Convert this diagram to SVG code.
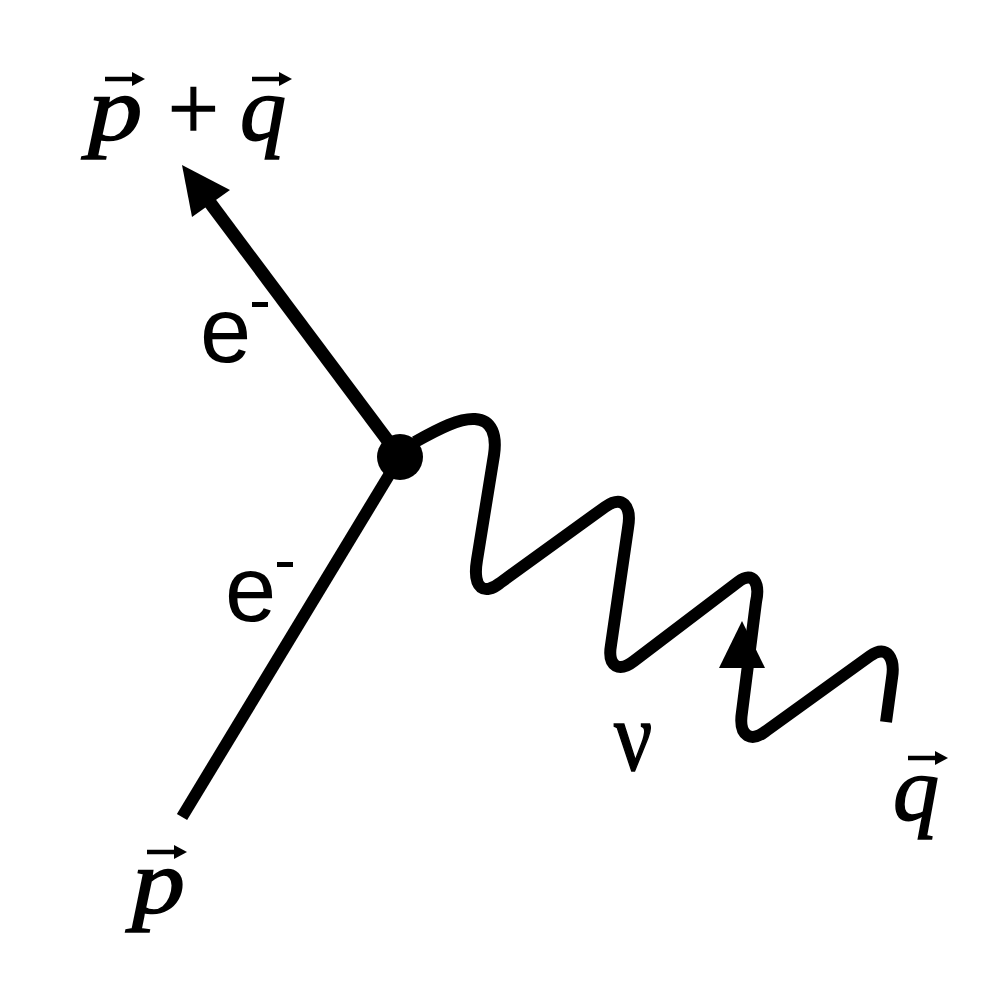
<svg xmlns="http://www.w3.org/2000/svg" width="1000" height="1000" viewBox="0 0 1000 1000">
<style>
.ln{fill:none;stroke:#000;stroke-linecap:butt;stroke-linejoin:round}
.math{font-family:"Liberation Serif","Times New Roman",serif;font-style:italic;fill:#000;stroke:#000;stroke-width:1.6}
.serif{font-family:"Liberation Serif","Times New Roman",serif;fill:#000;stroke:#000}
.sans{font-family:"Liberation Sans",Arial,sans-serif;fill:#000}
.vec{fill:none;stroke:#000;stroke-width:4.5}
</style>
<defs>
<g id="vecarrow">
<path d="M0 0 H30" class="vec"/>
<polygon points="40,0 27,-7 27,7" fill="#000"/>
</g>
</defs>
<rect width="1000" height="1000" fill="#fff"/>
<g id="connectors">
<line id="e-out" class="ln" x1="400" y1="457" x2="208" y2="200" stroke-width="13"/>
<polygon id="e-out-head" points="182,165 230,190 192,217" fill="#000"/>
<line id="e-in" class="ln" x1="400" y1="457" x2="182" y2="817" stroke-width="12"/>
<path id="nu-wave" class="ln" stroke-width="12" d="M415 442 C440 428,460 418,475 419 C492 420,497 435,494 455 L477 560 C472 590,485 595,500 583 L605 507 C622 495,632 505,628 528 L611 645 C607 668,620 672,634 661 L738 582 C754 570,760 584,756 602 L742 712 C738 738,752 742,766 731 L870 656 C888 643,895 660,892 678 L886 722"/>
<polygon id="nu-head" points="742,621 719,668 765,668" fill="#000"/>
</g>
<g id="vertex">
<circle cx="400" cy="457" r="23" fill="#000"/>
</g>
<g id="label-pq">
<text class="math" x="0" y="140" font-size="92" transform="translate(88 0) scale(1.18 1)">p</text>
<text class="serif" x="168" y="139" font-size="90" stroke-width="1.5">+</text>
<text class="math" x="240" y="140" font-size="92">q</text>
<use href="#vecarrow" x="105" y="79"/>
<use href="#vecarrow" x="252" y="79"/>
</g>
<g id="label-e-top">
<text class="sans" x="200" y="362" font-size="92">e</text>
<rect x="252" y="302" width="16" height="5" fill="#000"/>
</g>
<g id="label-e-bottom">
<text class="sans" x="225" y="621" font-size="92">e</text>
<rect x="277" y="562" width="16" height="5" fill="#000"/>
</g>
<g id="label-nu">
<text class="serif" x="0" y="770" font-size="100" stroke-width="1.5" transform="translate(614 0) scale(0.85 1)">ν</text>
</g>
<g id="label-q">
<text class="math" x="893" y="820" font-size="92">q</text>
<use href="#vecarrow" x="908" y="758"/>
</g>
<g id="label-p">
<text class="math" x="0" y="913" font-size="92" transform="translate(132 0) scale(1.15 1)">p</text>
<use href="#vecarrow" x="147" y="852"/>
</g>
</svg>
